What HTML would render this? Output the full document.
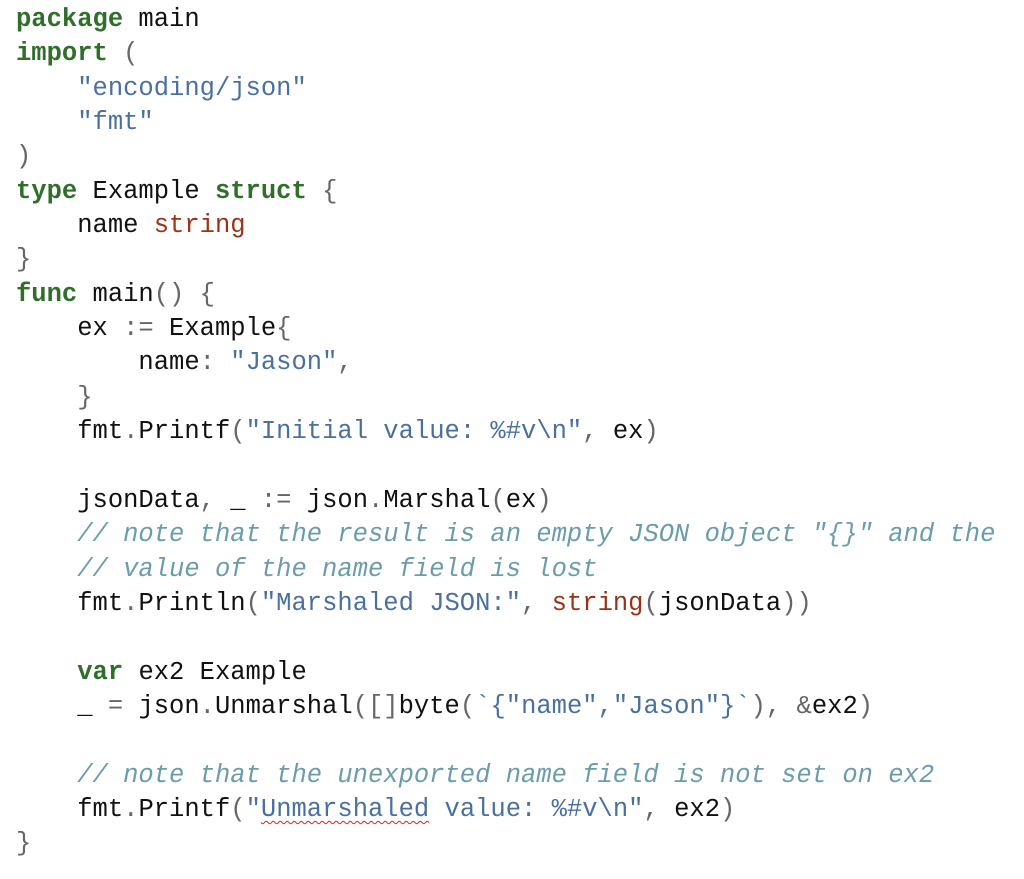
<!DOCTYPE html>
<html><head><meta charset="utf-8"><style>
html,body{margin:0;padding:0;background:#fff;width:1024px;height:879px;overflow:hidden}
pre{position:absolute;left:16px;top:3px;margin:0;font-family:"Liberation Mono",monospace;font-size:25.5px;line-height:34.35px;color:#111}
.k{color:#2f6f2a;font-weight:bold}
.s{color:#4a70a0}
.t{color:#9a3318}
.c{color:#6a9cab;font-style:italic}
.p{color:#666}
.w{text-decoration:underline wavy #d22;text-underline-offset:4px;text-decoration-thickness:1px}
</style></head><body>
<pre><span class="k">package</span> main
<span class="k">import</span> <span class="p">(</span>
    <span class="s">"encoding/json"</span>
    <span class="s">"fmt"</span>
<span class="p">)</span>
<span class="k">type</span> Example <span class="k">struct</span> <span class="p">{</span>
    name <span class="t">string</span>
<span class="p">}</span>
<span class="k">func</span> main<span class="p">()</span> <span class="p">{</span>
    ex <span class="p">:=</span> Example<span class="p">{</span>
        name<span class="p">:</span> <span class="s">"Jason"</span><span class="p">,</span>
    <span class="p">}</span>
    fmt<span class="p">.</span>Printf<span class="p">(</span><span class="s">"Initial value: %#v\n"</span><span class="p">,</span> ex<span class="p">)</span>

    jsonData<span class="p">,</span> _ <span class="p">:=</span> json<span class="p">.</span>Marshal<span class="p">(</span>ex<span class="p">)</span>
    <span class="c">// note that the result is an empty JSON object "{}" and the</span>
    <span class="c">// value of the name field is lost</span>
    fmt<span class="p">.</span>Println<span class="p">(</span><span class="s">"Marshaled JSON:"</span><span class="p">,</span> <span class="t">string</span><span class="p">(</span>jsonData<span class="p">))</span>

    <span class="k">var</span> ex2 Example
    _ <span class="p">=</span> json<span class="p">.</span>Unmarshal<span class="p">([]</span>byte<span class="p">(</span><span class="s">`{"name","Jason"}`</span><span class="p">),</span> <span class="p">&amp;</span>ex2<span class="p">)</span>

    <span class="c">// note that the unexported name field is not set on ex2</span>
    fmt<span class="p">.</span>Printf<span class="p">(</span><span class="s">"<span class="w">Unmarshaled</span> value: %#v\n"</span><span class="p">,</span> ex2<span class="p">)</span>
<span class="p">}</span></pre>
</body></html>
